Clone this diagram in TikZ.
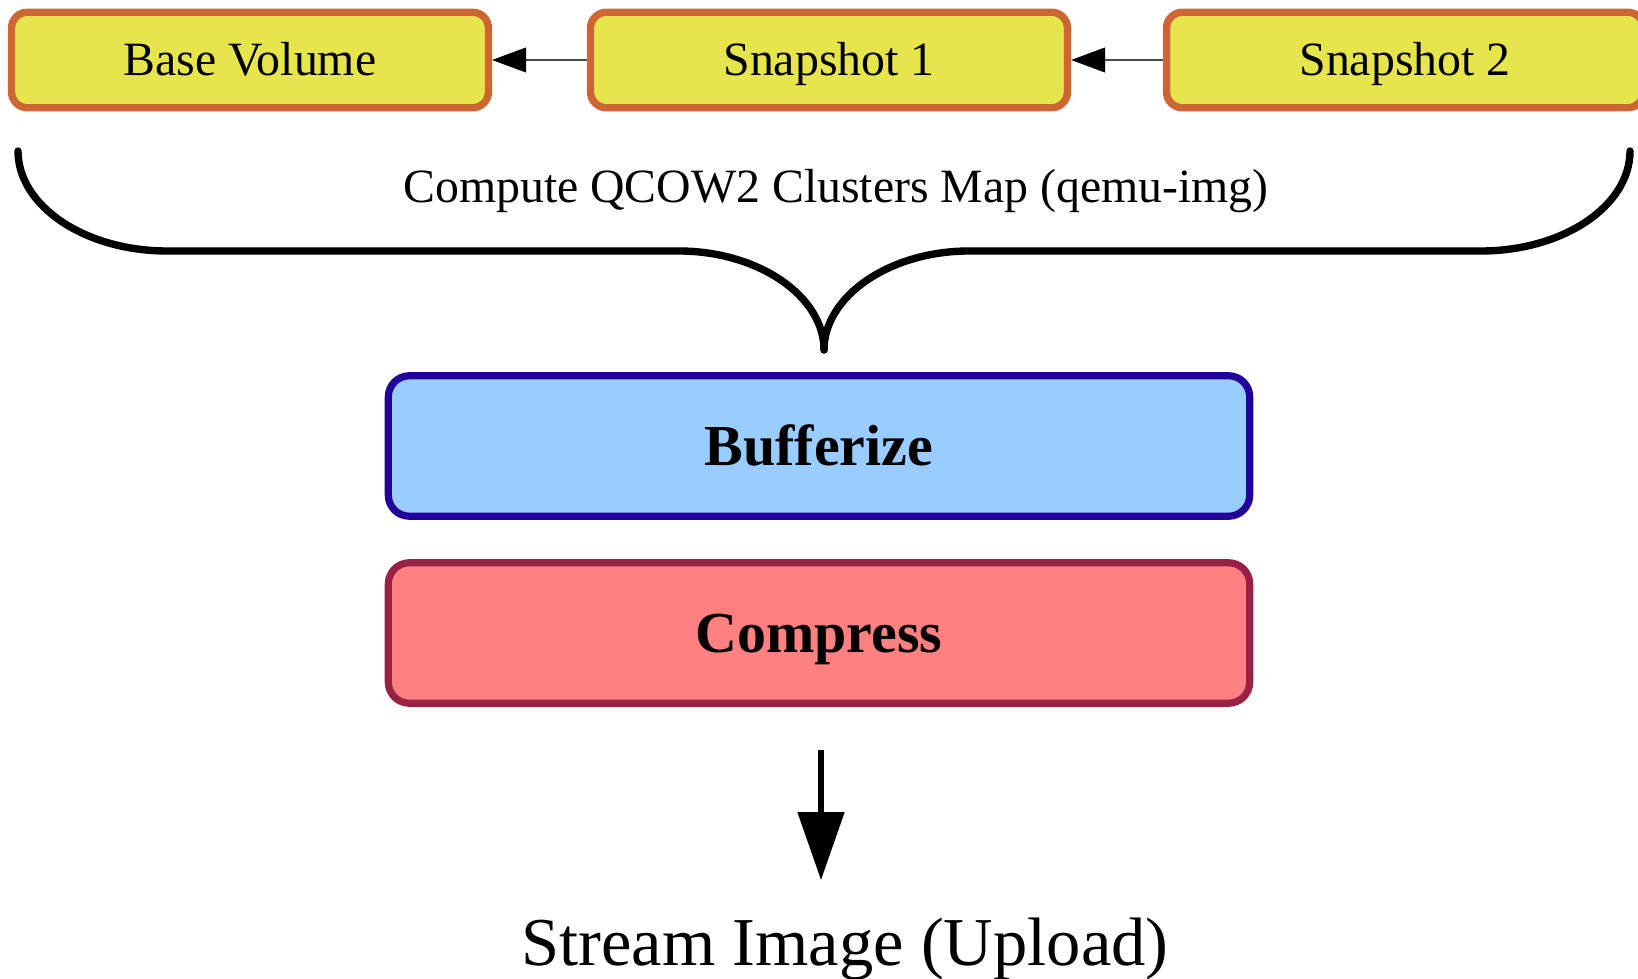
\documentclass[tikz,border=0pt]{standalone}
\usepackage{fontspec}
\setmainfont{Liberation Serif}
\usepackage{xcolor}
\usetikzlibrary{arrows.meta}

\definecolor{volfill}{RGB}{230,230,76}
\definecolor{voldraw}{RGB}{204,102,51}
\definecolor{buffill}{RGB}{153,204,255}
\definecolor{bufdraw}{RGB}{34,0,153}
\definecolor{cmpfill}{RGB}{255,128,128}
\definecolor{cmpdraw}{RGB}{153,34,68}

\begin{document}
\begin{tikzpicture}[x=0.02cm, y=-0.02cm,
        volbox/.style={draw=voldraw, fill=volfill, line width=4.2pt, rounded corners=9pt,
            minimum width=9.54cm, minimum height=1.91cm, inner sep=0pt,
            text height=18pt, text depth=0pt,
            font=\fontsize{27.2}{32}\selectfont},
        stagebox/.style={line width=4.1pt, rounded corners=12pt,
            minimum width=17.23cm, minimum height=2.81cm, inner sep=0pt,
            text height=21.8pt, text depth=0pt,
            font=\bfseries\fontsize{33}{40}\selectfont},
        chain/.style={-{Triangle[length=0.68cm, width=0.5cm, black]}, draw=black!70, line width=0.6pt},
        brace/.style={line width=4.2pt, line cap=round},
        flow/.style={-{Triangle[length=1.36cm, width=0.92cm]}, line width=2.95pt}]
        \useasboundingbox (0,0) rectangle (1638,979);

        % Volume chain
        \node[volbox] (base) at (250, 60) {Base Volume};
        \node[volbox] (snap1) at (829, 60) {Snapshot 1};
        \node[volbox] (snap2) at (1405, 60) {Snapshot 2};
        \draw[chain] (snap1) -- (base);
        \draw[chain] (snap2) -- (snap1);

        % Clusters map brace
        \draw[brace] (18, 151) .. controls (18, 206) and (85, 251) .. (167, 251)
            -- (679, 251) .. controls (758, 251) and (824, 296) .. (824, 350);
        \draw[brace] (1630, 151) .. controls (1630, 206) and (1563, 251) .. (1481, 251)
            -- (969, 251) .. controls (890, 251) and (824, 296) .. (824, 350);
        \node[font=\fontsize{27.2}{32}\selectfont] (mapping) at (836, 191) {Compute QCOW2 Clusters Map (qemu-img)};

        % Stages
        \node[stagebox, draw=bufdraw, fill=buffill] (buffer) at (819, 446) {Bufferize};
        \node[stagebox, draw=cmpdraw, fill=cmpfill] (compress) at (819, 633) {Compress};

        % Output
        \coordinate (flowstart) at (821, 750);
        \coordinate (flowend) at (821, 880);
        \draw[flow] (flowstart) -- (flowend);
        \node[font=\fontsize{39}{46}\selectfont] (stream) at (845, 949) {Stream Image (Upload)};
\end{tikzpicture}
\end{document}
